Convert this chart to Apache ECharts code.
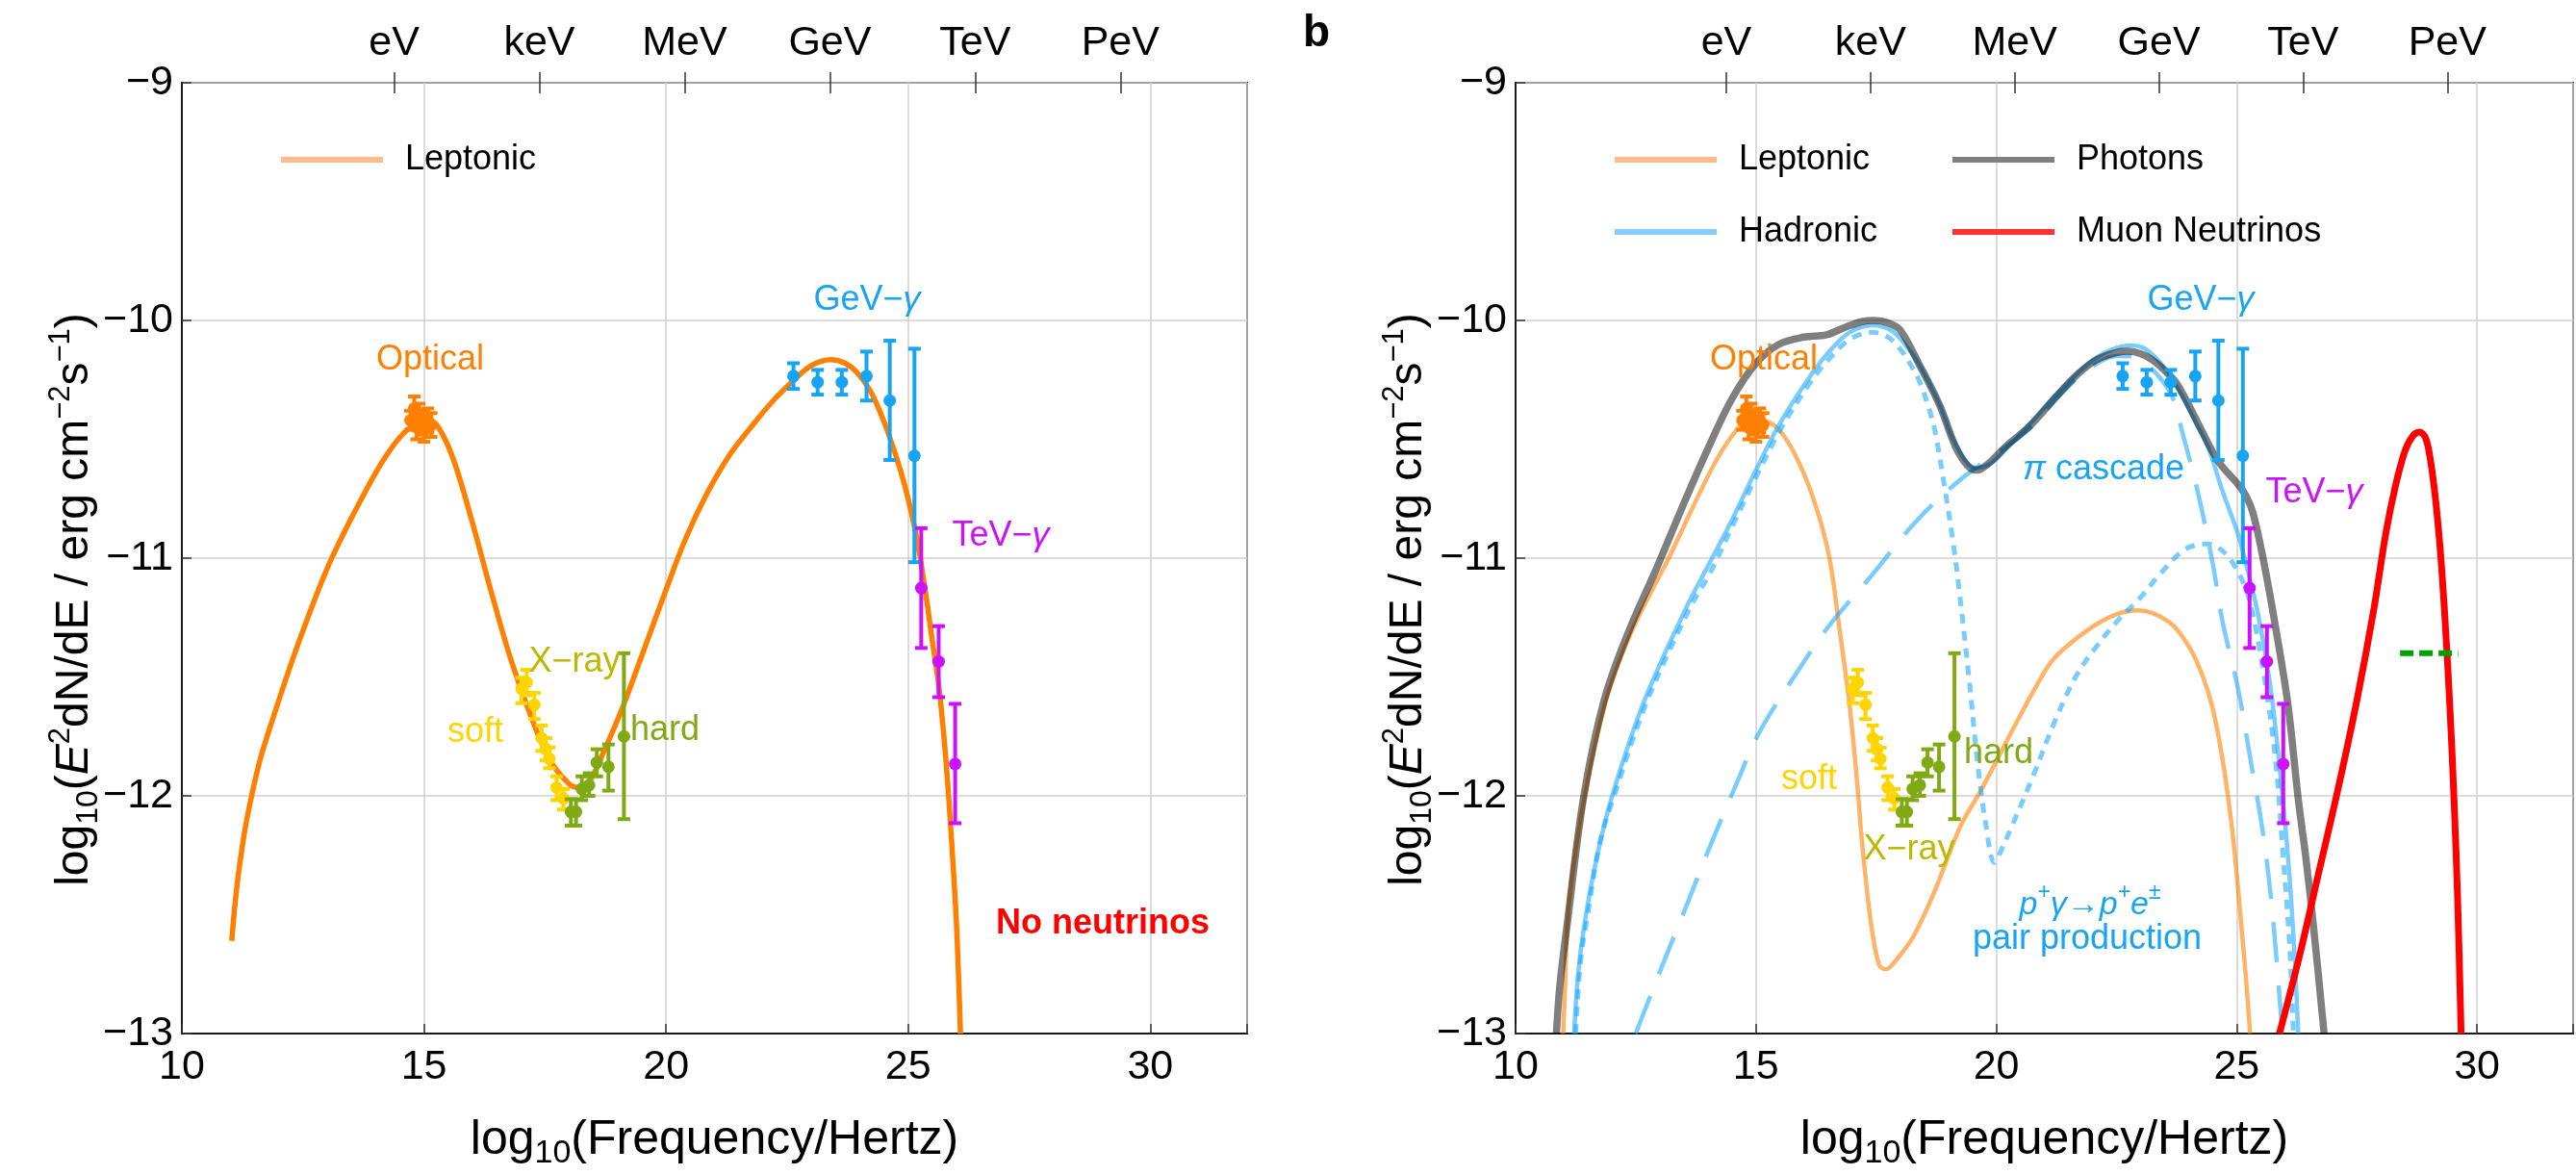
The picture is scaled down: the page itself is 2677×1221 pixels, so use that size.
<!DOCTYPE html>
<html>
<head>
<meta charset="utf-8">
<title>Blazar SED: leptonic vs lepto-hadronic</title>
<script src="https://cdn.jsdelivr.net/npm/echarts@6/dist/echarts.min.js"></script>
<style>
  html, body { margin: 0; padding: 0; background: #ffffff; }
  #chart { width: 2677px; height: 1221px; }
</style>
</head>
<body>
<div id="chart"></div>
<script>
// ---- axis ticks -------------------------------------------------------
const xTicks = [10, 15, 20, 25, 30];
const yTicks = [-13, -12, -11, -10, -9];
const energyNames = ['eV', 'keV', 'MeV', 'GeV', 'TeV', 'PeV'];
const energyLogHz = [14.383, 17.383, 20.383, 23.383, 26.383, 29.383];

// ---- panel a: leptonic model -----------------------------------------
const leptonicA = [
  [11.03,-12.61],[11.10,-12.45],[11.20,-12.28],[11.34,-12.10],[11.60,-11.86],
  [11.84,-11.70],[12.35,-11.39],[13.03,-11.03],[13.71,-10.75],[14.20,-10.575],
  [14.60,-10.47],[14.90,-10.43],[15.10,-10.42],[15.30,-10.45],[15.60,-10.58],
  [16.00,-10.85],[16.40,-11.15],[16.80,-11.43],[17.20,-11.66],[17.60,-11.85],
  [18.00,-11.95],[18.20,-11.965],[18.44,-11.93],[18.70,-11.82],[19.06,-11.65],
  [19.50,-11.41],[19.95,-11.16],[20.40,-10.92],[20.84,-10.73],[21.30,-10.57],
  [21.73,-10.455],[22.20,-10.34],[22.62,-10.255],[23.00,-10.19],[23.40,-10.165],
  [23.70,-10.18],[23.95,-10.22],[24.20,-10.29],[24.39,-10.37],[24.60,-10.48],
  [24.84,-10.63],[25.00,-10.75],[25.19,-10.93],[25.37,-11.16],[25.50,-11.35],
  [25.64,-11.55],[25.78,-11.85],[25.90,-12.20],[26.00,-12.55],[26.08,-13.00]
];

// ---- panel b: lepto-hadronic model -----------------------------------
const leptonicB = [
  [10.99,-13.00],[11.03,-12.80],[11.08,-12.53],[11.20,-12.30],[11.44,-12.00],
  [11.88,-11.60],[12.41,-11.31],[13.21,-10.99],[13.70,-10.78],[14.20,-10.58],
  [14.60,-10.46],[14.85,-10.42],[15.10,-10.42],[15.48,-10.46],[15.90,-10.60],
  [16.26,-10.79],[16.53,-11.00],[16.74,-11.30],[16.95,-11.62],[17.10,-11.93],
  [17.21,-12.20],[17.39,-12.53],[17.56,-12.71],[17.70,-12.73],[17.92,-12.69],
  [18.28,-12.59],[18.72,-12.40],[19.25,-12.13],[19.70,-11.97],[20.32,-11.73],
  [20.80,-11.55],[21.21,-11.42],[21.92,-11.30],[22.45,-11.24],[22.95,-11.22],
  [23.60,-11.27],[24.03,-11.38],[24.30,-11.50],[24.50,-11.63],[24.71,-11.85],
  [24.87,-12.08],[24.97,-12.26],[25.10,-12.55],[25.20,-12.78],[25.28,-13.00]
];
const hadronic = [
  [11.22,-13.00],[11.30,-12.75],[11.44,-12.53],[11.70,-12.25],[12.01,-12.00],
  [12.68,-11.60],[13.57,-11.20],[14.01,-11.03],[14.50,-10.84],[15.00,-10.63],
  [15.48,-10.44],[16.11,-10.24],[16.53,-10.13],[16.95,-10.05],[17.42,-10.02],
  [17.80,-10.04],[18.10,-10.10],[18.41,-10.19],[18.83,-10.36],[19.15,-10.52],
  [19.57,-10.62],[19.90,-10.60],[20.30,-10.52],[20.72,-10.43],[21.25,-10.31],
  [21.70,-10.22],[22.09,-10.155],[22.50,-10.115],[22.80,-10.105],[23.10,-10.12],
  [23.50,-10.20],[23.87,-10.32],[24.15,-10.43],[24.40,-10.53],[24.71,-10.72],
  [25.03,-10.90],[25.24,-11.06],[25.45,-11.24],[25.71,-11.55],[25.92,-11.93],
  [26.07,-12.26],[26.20,-12.65],[26.28,-13.00]
];
const photons = [
  [10.85,-13.00],[10.92,-12.80],[11.08,-12.53],[11.42,-12.00],[11.84,-11.60],
  [12.33,-11.32],[12.96,-11.03],[13.50,-10.77],[14.00,-10.54],[14.50,-10.33],
  [15.00,-10.18],[15.48,-10.10],[16.00,-10.07],[16.47,-10.06],[16.84,-10.03],
  [17.20,-10.005],[17.47,-10.00],[17.75,-10.01],[18.00,-10.04],[18.41,-10.19],
  [18.83,-10.36],[19.15,-10.53],[19.40,-10.61],[19.60,-10.63],[19.85,-10.60],
  [20.20,-10.53],[20.72,-10.44],[21.25,-10.32],[21.70,-10.225],[22.09,-10.165],
  [22.50,-10.135],[22.75,-10.13],[23.00,-10.14],[23.24,-10.165],[23.50,-10.21],
  [23.77,-10.27],[24.19,-10.43],[24.61,-10.59],[25.03,-10.69],[25.20,-10.74],
  [25.34,-10.81],[25.55,-11.00],[25.81,-11.29],[26.07,-11.62],[26.28,-12.01],
  [26.44,-12.26],[26.60,-12.55],[26.82,-13.00]
];
const pairProduction = [
  [11.25,-13.00],[11.35,-12.70],[11.50,-12.50],[11.75,-12.20],[12.05,-12.00],
  [12.70,-11.62],[13.60,-11.22],[14.05,-11.06],[14.50,-10.87],[15.00,-10.66],
  [15.48,-10.47],[16.10,-10.27],[16.53,-10.16],[16.95,-10.08],[17.42,-10.05],
  [17.75,-10.07],[18.00,-10.12],[18.20,-10.18],[18.41,-10.26],[18.60,-10.37],
  [18.73,-10.47],[18.94,-10.72],[19.10,-10.93],[19.22,-11.12],[19.43,-11.50],
  [19.61,-11.86],[19.79,-12.13],[19.96,-12.28],[20.10,-12.23],[20.32,-12.13],
  [20.76,-11.92],[21.21,-11.69],[21.65,-11.50],[22.09,-11.37],[22.54,-11.26],
  [22.98,-11.17],[23.35,-11.08],[23.87,-10.97],[24.15,-10.945],[24.40,-10.94],
  [24.65,-10.96],[24.92,-11.02],[25.24,-11.16],[25.55,-11.47],[25.81,-11.85],
  [25.97,-12.26],[26.10,-12.62],[26.18,-13.00]
];
const pionCascade = [
  [12.50,-13.00],[13.04,-12.72],[13.52,-12.48],[14.01,-12.23],[14.55,-11.97],
  [15.08,-11.73],[15.79,-11.50],[16.50,-11.29],[17.42,-11.07],[18.31,-10.85],
  [19.25,-10.67],[20.00,-10.56],[20.72,-10.45],[21.25,-10.33],[21.70,-10.24],
  [22.10,-10.18],[22.50,-10.15],[22.80,-10.15],[23.10,-10.18],[23.40,-10.24],
  [23.66,-10.32],[23.87,-10.47],[24.19,-10.72],[24.50,-11.02],[24.71,-11.27],
  [25.03,-11.55],[25.29,-11.85],[25.55,-12.16],[25.75,-12.50],[25.95,-13.00]
];
const muonNeutrinos = [
  [25.89,-13.00],[26.30,-12.68],[26.70,-12.33],[27.10,-11.98],[27.50,-11.60],
  [27.85,-11.22],[28.10,-10.90],[28.30,-10.70],[28.50,-10.55],[28.65,-10.49],
  [28.80,-10.47],[28.92,-10.49],[29.01,-10.56],[29.12,-10.72],[29.23,-10.95],
  [29.33,-11.24],[29.43,-11.60],[29.52,-12.00],[29.60,-12.45],[29.67,-13.00]
];
const neutrinoLevel = [[28.40,-11.40],[29.61,-11.40]];

// ---- observations: [log10 nu, log10 flux, lower, upper] ---------------
const opticalPts = [
  [14.72,-10.42,-10.38,-10.46],[14.80,-10.37,-10.32,-10.42],[14.85,-10.45,-10.40,-10.50],
  [14.90,-10.40,-10.35,-10.45],[14.95,-10.43,-10.38,-10.48],[15.00,-10.46,-10.41,-10.51],
  [15.08,-10.42,-10.37,-10.47],[15.15,-10.44,-10.39,-10.49]
];
const softXray = [
  [17.015,-11.550,-11.503,-11.610],[17.12,-11.523,-11.470,-11.577],[17.28,-11.617,-11.567,-11.677],
  [17.43,-11.757,-11.704,-11.811],[17.52,-11.804,-11.757,-11.851],[17.59,-11.844,-11.797,-11.884],
  [17.74,-11.965,-11.918,-12.018],[17.88,-12.011,-11.971,-12.058]
];
const hardXray = [
  [18.035,-12.067,-12.014,-12.125],[18.14,-12.067,-12.014,-12.125],[18.26,-11.971,-11.918,-12.018],
  [18.41,-11.955,-11.905,-12.000],[18.57,-11.860,-11.804,-11.918],[18.81,-11.878,-11.784,-11.978],
  [19.13,-11.750,-11.400,-12.098]
];
const gevGamma = [
  [22.63,-10.234,-10.180,-10.288],[23.13,-10.260,-10.208,-10.312],[23.63,-10.260,-10.208,-10.312],
  [24.14,-10.234,-10.131,-10.337],[24.62,-10.337,-10.085,-10.587],[25.13,-10.569,-10.119,-11.017]
];
const tevGamma = [
  [25.27,-11.126,-10.874,-11.378],[25.63,-11.435,-11.286,-11.585],[25.97,-11.866,-11.613,-12.115]
];

// ---- styling ----------------------------------------------------------
const FONT = "'Liberation Sans', Arial, Helvetica, sans-serif";
const C = {
  orange: '#ff7f00', lept: 'rgba(255,128,0,0.6)', had: 'rgba(30,170,255,0.6)',
  phot: 'rgba(0,0,0,0.5)', nu: '#ff0000', blue: '#18a4f4', purple: '#cc11ff',
  soft: '#ffd400', hard: '#80aa14', xray: '#bdb800', green: '#00a000'
};
const AXIS_FS = 43;

const minus = v => (v < 0 ? '\u2212' + Math.abs(v) : String(v));

function bottomAxis(gridIndex) {
  return {
    type: 'value', gridIndex, position: 'bottom', min: 10, max: 32, interval: 5,
    axisLine: { show: true, lineStyle: { color: '#1a1a1a', width: 2 } },
    axisTick: { show: true, inside: true, length: 10, lineStyle: { color: '#333', width: 1.5 } },
    axisLabel: {
      fontFamily: FONT, fontSize: AXIS_FS, color: '#000', margin: 14,
      formatter: v => (xTicks.indexOf(v) >= 0 ? String(v) : '')
    },
    splitLine: { show: true, lineStyle: { color: '#d0d0d0', width: 1.5 } },
    name: '{m|log}{s|10}{m|(Frequency/Hertz)}',
    nameLocation: 'middle', nameGap: 80,
    nameTextStyle: {
      rich: {
        m: { fontFamily: FONT, fontSize: 50, color: '#000', lineHeight: 62, verticalAlign: 'middle' },
        s: { fontFamily: FONT, fontSize: 34, color: '#000', lineHeight: 36, verticalAlign: 'bottom' }
      }
    }
  };
}
function topAxis(gridIndex) {
  return {
    type: 'value', gridIndex, position: 'top', min: 10, max: 32, offset: -11,
    axisLine: { show: false },
    axisTick: { show: true, inside: false, length: 22, customValues: energyLogHz,
      lineStyle: { color: '#333', width: 1.5 } },
    axisLabel: {
      fontFamily: FONT, fontSize: AXIS_FS, color: '#000', margin: 30,
      customValues: energyLogHz,
      formatter: v => {
        let best = 0;
        energyLogHz.forEach((p, i) => { if (Math.abs(p - v) < Math.abs(energyLogHz[best] - v)) best = i; });
        return energyNames[best];
      }
    },
    splitLine: { show: false }
  };
}
function leftAxis(gridIndex) {
  return {
    type: 'value', gridIndex, min: -13, max: -9, interval: 1,
    axisLine: { show: true, lineStyle: { color: '#1a1a1a', width: 2 } },
    axisTick: { show: true, inside: true, length: 10, lineStyle: { color: '#333', width: 1.5 } },
    axisLabel: { fontFamily: FONT, fontSize: AXIS_FS, color: '#000', margin: 9, formatter: minus },
    splitLine: { show: true, lineStyle: { color: '#d0d0d0', width: 1.5 } }
  };
}

function curve(name, data, xi, style, extra) {
  return Object.assign({
    name, type: 'line', xAxisIndex: xi, yAxisIndex: xi === 0 ? 0 : 1,
    data, showSymbol: false, symbol: 'none', smooth: 0.35, clip: true,
    lineStyle: style, silent: true, z: 3
  }, extra || {});
}

function errorBars(name, data, xi, color) {
  return {
    name, type: 'custom', xAxisIndex: xi, yAxisIndex: xi === 0 ? 0 : 1, data, z: 6, silent: true,
    renderItem: (params, api) => {
      const c = api.coord([api.value(0), api.value(1)]);
      const lo = api.coord([api.value(0), api.value(2)]);
      const hi = api.coord([api.value(0), api.value(3)]);
      const cap = 6.5;
      const st = { stroke: color, lineWidth: 4 };
      return {
        type: 'group',
        children: [
          { type: 'line', shape: { x1: c[0], y1: lo[1], x2: c[0], y2: hi[1] }, style: st },
          { type: 'line', shape: { x1: c[0] - cap, y1: lo[1], x2: c[0] + cap, y2: lo[1] }, style: st },
          { type: 'line', shape: { x1: c[0] - cap, y1: hi[1], x2: c[0] + cap, y2: hi[1] }, style: st },
          { type: 'circle', shape: { cx: c[0], cy: c[1], r: 6.5 }, style: { fill: color } }
        ]
      };
    }
  };
}

function obsSeries(xi) {
  return [
    errorBars('Optical', opticalPts, xi, C.orange),
    errorBars('soft X', softXray, xi, C.soft),
    errorBars('hard X', hardXray, xi, C.hard),
    errorBars('GeV', gevGamma, xi, C.blue),
    errorBars('TeV', tevGamma, xi, C.purple)
  ];
}

function label(x, y, text, rich, extra) {
  return {
    type: 'text', x, y, z: 20, silent: true,
    style: Object.assign({ text, rich, align: 'center', verticalAlign: 'middle',
      fontFamily: FONT, fontSize: 36 }, extra || {})
  };
}
const richGamma = color => ({
  a: { fontFamily: FONT, fontSize: 36, fill: color },
  g: { fontFamily: FONT, fontSize: 36, fill: color, fontStyle: 'italic' }
});
const yTitleRich = {
  m: { fontFamily: FONT, fontSize: 48, fill: '#000', lineHeight: 60, verticalAlign: 'middle' },
  i: { fontFamily: FONT, fontSize: 48, fill: '#000', fontStyle: 'italic', lineHeight: 60, verticalAlign: 'middle' },
  s: { fontFamily: FONT, fontSize: 32, fill: '#000', lineHeight: 34, verticalAlign: 'bottom' },
  p: { fontFamily: FONT, fontSize: 31, fill: '#000', lineHeight: 33, verticalAlign: 'top' }
};
const yTitle = '{m|log}{s|10}{m|(}{i|E}{p|2}{m|dN/dE / erg cm}{p|\u22122}{m|s}{p|\u22121}{m|)}';
function yTitleText(x, y) {
  return { type: 'text', x, y, rotation: Math.PI / 2, z: 20, silent: true,
    style: { text: yTitle, rich: yTitleRich, align: 'center', verticalAlign: 'middle' } };
}

const OFF = 1386; // horizontal shift between the two panels

const option = {
  animation: false,
  backgroundColor: '#ffffff',
  grid: [
    { left: 189, top: 86, width: 1107, height: 997, show: true, borderColor: '#1a1a1a', borderWidth: 2, backgroundColor: 'transparent' },
    { left: 1575, top: 86, width: 1107, height: 997, show: true, borderColor: '#1a1a1a', borderWidth: 2, backgroundColor: 'transparent' }
  ],
  xAxis: [bottomAxis(0), topAxis(0), bottomAxis(1), topAxis(1)],
  yAxis: [leftAxis(0), leftAxis(1)],
  legend: [
    { left: 287, top: 141, itemWidth: 106, itemHeight: 6, icon: 'rect', selectedMode: false,
      textStyle: { fontFamily: FONT, fontSize: 36, color: '#000', lineHeight: 40, padding: [0, 0, 0, 18] },
      data: [{ name: 'Leptonic', itemStyle: { color: '#ffbb88' } }] },
    { left: 1673, top: 141, orient: 'vertical', itemGap: 35, itemWidth: 106, itemHeight: 6, icon: 'rect', selectedMode: false,
      textStyle: { fontFamily: FONT, fontSize: 36, color: '#000', lineHeight: 40, padding: [0, 0, 0, 18] },
      data: [{ name: 'Leptonic', itemStyle: { color: '#ffbb88' } }, { name: 'Hadronic', itemStyle: { color: '#88ccff' } }] },
    { left: 2024, top: 141, orient: 'vertical', itemGap: 35, itemWidth: 106, itemHeight: 6, icon: 'rect', selectedMode: false,
      textStyle: { fontFamily: FONT, fontSize: 36, color: '#000', lineHeight: 40, padding: [0, 0, 0, 18] },
      data: [{ name: 'Photons', itemStyle: { color: '#808080' } }, { name: 'Muon Neutrinos', itemStyle: { color: '#ff3333' } }] }
  ],
  series: [
    // panel a
    curve('Leptonic', leptonicA, 0, { color: C.orange, width: 5.5 }),
    ...obsSeries(0),
    // panel b
    curve('Leptonic', leptonicB, 2, { color: C.lept, width: 4.5 }),
    curve('pi cascade', pionCascade, 2, { color: C.had, width: 4.5, type: [42, 24] }),
    curve('pair production', pairProduction, 2, { color: C.had, width: 5, type: [10, 8] }),
    curve('Hadronic', hadronic, 2, { color: C.had, width: 4.5 }),
    curve('Photons', photons, 2, { color: C.phot, width: 7.5 }),
    curve('Muon Neutrinos', muonNeutrinos, 2, { color: C.nu, width: 7 }),
    curve('neutrino level', neutrinoLevel, 2, { color: C.green, width: 6, type: [14, 6] }, { smooth: false }),
    ...obsSeries(2)
  ],
  graphic: [
    yTitleText(78, 623),
    yTitleText(78 + OFF, 623),
    // panel a annotations
    label(447, 374, 'Optical', null, { fill: C.orange }),
    label(901, 312, '{a|GeV\u2212}{g|\u03b3}', richGamma(C.blue)),
    label(1040, 557, '{a|TeV\u2212}{g|\u03b3}', richGamma(C.purple)),
    label(597, 688, 'X\u2212ray', null, { fill: C.xray }),
    label(494, 761, 'soft', null, { fill: C.soft }),
    label(691, 759, 'hard', null, { fill: C.hard }),
    label(1146, 960, 'No neutrinos', null, { fill: '#ff0000', fontWeight: 'bold' }),
    // panel b annotations
    label(1368, 35, 'b', null, { fill: '#000', fontWeight: 'bold', fontSize: 46 }),
    label(447 + OFF, 374, 'Optical', null, { fill: C.orange }),
    label(901 + OFF, 312, '{a|GeV\u2212}{g|\u03b3}', richGamma(C.blue)),
    label(2405, 512, '{a|TeV\u2212}{g|\u03b3}', richGamma(C.purple)),
    label(2186, 488, '{g|\u03c0}{a| cascade}', richGamma(C.blue)),
    label(1880, 810, 'soft', null, { fill: C.soft }),
    label(2077, 783, 'hard', null, { fill: C.hard }),
    label(1984, 883, 'X\u2212ray', null, { fill: C.xray }),
    label(2172, 937, '{g|p}{u|+}{g|\u03b3\u2192p}{u|+}{g|e}{u|\u00b1}', {
      g: { fontFamily: FONT, fontSize: 34, fill: C.blue, fontStyle: 'italic', lineHeight: 42, verticalAlign: 'bottom' },
      u: { fontFamily: FONT, fontSize: 23, fill: C.blue, fontStyle: 'italic', lineHeight: 23, verticalAlign: 'top' }
    }),
    label(2169, 976, 'pair production', null, { fill: C.blue })
  ]
};

const chart = echarts.init(document.getElementById('chart'));
chart.setOption(option);
</script>
</body>
</html>
